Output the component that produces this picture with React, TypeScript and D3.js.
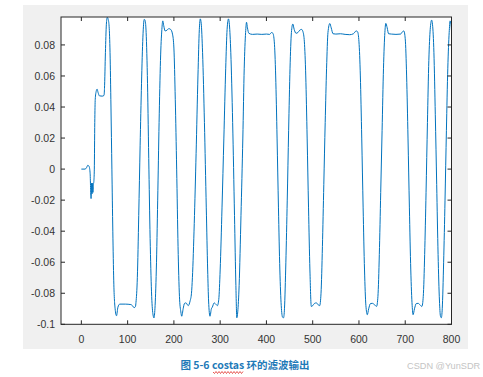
import React from "react";
import * as d3 from "d3";

// sample index (x) and costas loop filter output (y)
const sampleIndex = [
  0, 8, 11, 14, 17, 19, 20, 21, 22, 23, 24, 25, 26, 27, 28, 29, 30, 32, 34, 36, 39, 45, 49,
  50, 52, 54, 56, 58, 60, 62, 64, 66, 68, 70, 73, 76, 79, 83, 95, 107, 111, 114, 117,
  118, 121, 124, 127, 130, 133, 136, 138, 140, 143, 146, 149, 152, 155, 157, 159, 162, 165, 168, 171, 174, 176,
  178, 181, 185, 189, 193, 197, 200, 203, 206, 209, 212, 215, 217,
  220, 223, 226, 231, 235, 238, 240, 244, 248, 252, 255, 257, 259, 262, 266, 270, 273, 275, 278,
  281, 283, 287, 291, 294, 297, 300, 304, 308, 312, 315, 318, 320, 323, 327, 331, 334, 336,
  338, 341, 345, 349, 352, 355, 357, 359, 362, 370, 380, 390, 400, 407, 411, 414,
  417, 420, 423, 426, 429, 432, 435, 437, 439, 442, 445, 448, 451, 454, 457, 460, 464, 468, 472, 476, 479,
  482, 485, 488, 491, 494, 497, 500, 504, 508, 512, 515, 518, 521, 524, 527, 530, 533, 537, 540, 544,
  550, 560, 570, 580, 588, 594, 597, 600, 603, 606, 609, 612, 615, 618, 621, 625, 629, 634, 638,
  641, 644, 647, 650, 653, 656, 658, 661, 664, 670, 680, 690, 694, 697, 700, 703, 706, 709, 712, 715, 717,
  720, 724, 728, 732, 736, 739, 742, 745, 748, 751, 754, 757, 759, 762, 765, 768, 771, 774, 776, 778,
  780, 783, 786, 789, 792, 795, 797, 799, 800,
];
const filterOutput = [
  0, 0, 0.0008, 0.0025, 0.0015, -0.003, -0.013, -0.019, -0.009, -0.016, -0.009, -0.015, -0.01, -0.008, 0.0, 0.03, 0.045, 0.05, 0.0515, 0.0495, 0.0472, 0.047, 0.0475,
  0.052, 0.075, 0.093, 0.0978, 0.0965, 0.092, 0.075, 0.04, 0.0, -0.04, -0.072, -0.09, -0.0945, -0.089, -0.087, -0.087, -0.0873, -0.0882, -0.0893, -0.0885,
  -0.086, -0.07, -0.03, 0.015, 0.055, 0.085, 0.0965, 0.0955, 0.088, 0.055, 0.0, -0.05, -0.082, -0.094, -0.0959, -0.09, -0.065, -0.02, 0.03, 0.07, 0.09, 0.0955,
  0.0925, 0.089, 0.0895, 0.0905, 0.09, 0.087, 0.078, 0.045, 0.0, -0.05, -0.082, -0.092, -0.0948,
  -0.09, -0.0865, -0.0862, -0.088, -0.085, -0.08, -0.07, -0.035, 0.01, 0.06, 0.09, 0.0968, 0.094, 0.075, 0.03, -0.025, -0.065, -0.085, -0.0948,
  -0.09, -0.089, -0.0862, -0.0872, -0.088, -0.084, -0.065, -0.025, 0.02, 0.065, 0.09, 0.0968, 0.093, 0.075, 0.03, -0.03, -0.075, -0.0958,
  -0.092, -0.075, -0.03, 0.02, 0.065, 0.088, 0.0946, 0.091, 0.0875, 0.0868, 0.087, 0.0868, 0.087, 0.0868, 0.088, 0.0875,
  0.082, 0.06, 0.02, -0.025, -0.065, -0.088, -0.0955, -0.0958, -0.09, -0.06, -0.02, 0.025, 0.065, 0.088, 0.0935, 0.09, 0.0875, 0.088, 0.0895, 0.09, 0.0885,
  0.082, 0.06, 0.02, -0.025, -0.065, -0.0885, -0.088, -0.0865, -0.0862, -0.0875, -0.088, -0.08, -0.05, -0.01, 0.03, 0.065, 0.088, 0.0938, 0.091, 0.0872,
  0.087, 0.0872, 0.0868, 0.0866, 0.0872, 0.089, 0.0885, 0.082, 0.06, 0.02, -0.025, -0.065, -0.088, -0.0938, -0.09, -0.0866, -0.0865, -0.0875, -0.0885,
  -0.082, -0.055, -0.015, 0.025, 0.065, 0.088, 0.0939, 0.091, 0.0872, 0.087, 0.0868, 0.087, 0.0885, 0.089, 0.084, 0.06, 0.02, -0.025, -0.065, -0.088, -0.0938,
  -0.09, -0.0866, -0.0865, -0.0875, -0.0885, -0.082, -0.055, -0.015, 0.03, 0.07, 0.09, 0.096, 0.093, 0.075, 0.035, -0.01, -0.055, -0.085, -0.0945, -0.0958,
  -0.09, -0.06, -0.02, 0.025, 0.065, 0.088, 0.0955, 0.093, 0.089,
];

const xTicks = [0, 100, 200, 300, 400, 500, 600, 700, 800];
const yTicks = [-0.1, -0.08, -0.06, -0.04, -0.02, 0, 0.02, 0.04, 0.06, 0.08];
const xDomain = [-44, 800];
const yDomain = [-0.1, 0.098];
const captionText = "图 5-6 costas 环的滤波输出";
const watermarkText = "CSDN @YunSDR";

export default function App() {
  const W = 483, H = 377;
  const left = 61, right = 451.5, top = 17, bottom = 324.3;
  const x = d3.scaleLinear().domain(xDomain).range([left, right]);
  const y = d3.scaleLinear().domain(yDomain).range([bottom, top]);
  const pts = sampleIndex.map((t, i) => [t, filterOutput[i]] as [number, number]);
  const line = d3
    .line<[number, number]>()
    .x((d) => x(d[0]))
    .y((d) => y(d[1]))
    .curve(d3.curveMonotoneX);
  const tl = 4;
  const axisColor = "#262626";
  const fmt = (v: number) => String(+v.toFixed(2));

  // wavy spell-check underline under "costas"
  let wavy = "M213,372";
  for (let i = 0, xx = 213; xx < 243; i++) {
    xx += 1.5;
    wavy += ` L${xx},${i % 2 === 0 ? 373.5 : 371.5}`;
  }

  return (
    <svg
      width={W}
      height={H}
      style={{ position: "absolute", left: 0, top: 0, background: "#fff" }}
      fontFamily="'Liberation Sans', Arial, Helvetica, sans-serif"
    >
      <rect x={23} y={5} width={445} height={344} fill="#f0f0f0" />
      <defs>
        <clipPath id="plotclip">
          <rect x={left} y={top} width={right - left} height={bottom - top} />
        </clipPath>
      </defs>
      <rect x={left} y={top} width={right - left} height={bottom - top} fill="#fff" />
      <path
        d={line(pts) || ""}
        fill="none"
        stroke="#0072BD"
        strokeWidth={1}
        clipPath="url(#plotclip)"
      />
      <rect
        x={left}
        y={top}
        width={right - left}
        height={bottom - top}
        fill="none"
        stroke={axisColor}
        strokeWidth={1}
      />
      {xTicks.map((t) => (
        <g key={"x" + t}>
          <line x1={x(t)} x2={x(t)} y1={bottom} y2={bottom - tl} stroke={axisColor} />
          <line x1={x(t)} x2={x(t)} y1={top} y2={top + tl} stroke={axisColor} />
          <text x={x(t)} y={343} textAnchor="middle" fontSize={10.5} fill="#333">
            {t}
          </text>
        </g>
      ))}
      {yTicks.map((v) => (
        <g key={"y" + v}>
          <line x1={left} x2={left + tl} y1={y(v)} y2={y(v)} stroke={axisColor} />
          <line x1={right} x2={right - tl} y1={y(v)} y2={y(v)} stroke={axisColor} />
          <text x={55} y={y(v) + 4} textAnchor="end" fontSize={10.5} fill="#333">
            {fmt(v)}
          </text>
        </g>
      ))}
      <text
        x={245}
        y={369}
        textAnchor="middle"
        fontSize={10.5}
        fontWeight="bold"
        fill="#1f7ab8"
        fontFamily="'Noto Sans CJK SC', 'Liberation Sans', sans-serif"
      >
        {captionText}
      </text>
      <path d={wavy} fill="none" stroke="#e0302a" strokeWidth={0.8} />
      <text x={407} y={369} fontSize={9.2} fill="#c4c4c4">
        {watermarkText}
      </text>
    </svg>
  );
}
